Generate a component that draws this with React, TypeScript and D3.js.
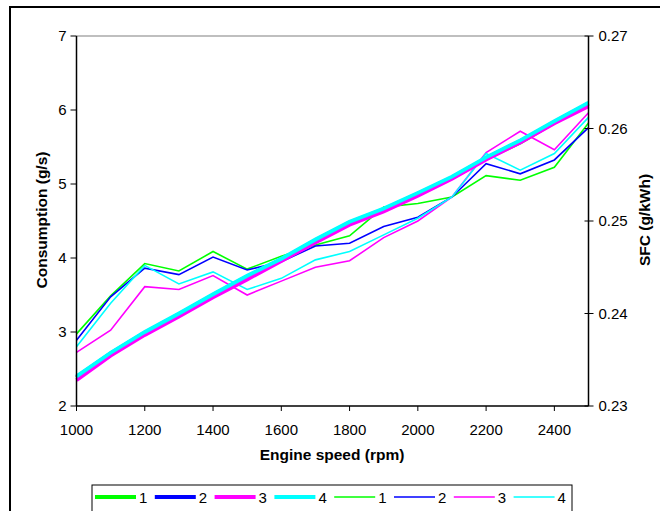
import React from "react";
import * as d3 from "d3";

const speeds = [1000, 1100, 1200, 1300, 1400, 1500, 1600, 1700, 1800, 1900, 2000, 2100, 2200, 2300, 2400, 2500];

// Consumption (g/s) – thick lines, left axis
const cons1 = [2.38, 2.70, 2.98, 3.23, 3.49, 3.74, 3.97, 4.23, 4.47, 4.65, 4.86, 5.08, 5.34, 5.56, 5.83, 6.08];
const cons2 = [2.39, 2.71, 2.99, 3.24, 3.50, 3.75, 3.98, 4.24, 4.48, 4.66, 4.87, 5.09, 5.35, 5.58, 5.84, 6.09];
const cons3 = [2.35, 2.68, 2.96, 3.21, 3.47, 3.71, 3.96, 4.21, 4.45, 4.63, 4.84, 5.07, 5.33, 5.56, 5.82, 6.05];
const cons4 = [2.40, 2.72, 3.00, 3.25, 3.51, 3.76, 3.99, 4.25, 4.49, 4.67, 4.88, 5.10, 5.36, 5.59, 5.85, 6.10];

// SFC (g/kWh) – thin lines, right axis
const sfc1 = [0.2378, 0.2419, 0.2454, 0.2446, 0.2467, 0.2448, 0.2462, 0.2474, 0.2484, 0.2515, 0.2519, 0.2526, 0.2549, 0.2544, 0.2558, 0.2606];
const sfc2 = [0.2371, 0.2418, 0.2449, 0.2442, 0.2461, 0.2447, 0.2456, 0.2473, 0.2476, 0.2494, 0.2504, 0.2526, 0.2562, 0.2551, 0.2566, 0.2601];
const sfc3 = [0.2358, 0.2382, 0.2429, 0.2426, 0.2441, 0.2420, 0.2435, 0.2450, 0.2457, 0.2482, 0.2500, 0.2526, 0.2574, 0.2597, 0.2577, 0.2617];
const sfc4 = [0.2364, 0.2411, 0.2452, 0.2432, 0.2445, 0.2426, 0.2438, 0.2458, 0.2467, 0.2485, 0.2503, 0.2526, 0.2573, 0.2555, 0.2573, 0.2612];

const xTicks = [1000, 1200, 1400, 1600, 1800, 2000, 2200, 2400];
const yLeftTicks = [2, 3, 4, 5, 6, 7];
const yRightTicks = [0.23, 0.24, 0.25, 0.26, 0.27];
const seriesLabels = ["1", "2", "3", "4"];
const colors = ["#00ff00", "#0000ff", "#ff00ff", "#00ffff"];

const FONT = "Liberation Sans, Arial, sans-serif";

export default function App() {
  const left = 76.5, right = 588.5, top = 36, bottom = 406;
  const x = d3.scaleLinear().domain([1000, 2500]).range([left, right]);
  const yL = d3.scaleLinear().domain([2, 7]).range([bottom, top]);
  const yR = d3.scaleLinear().domain([0.23, 0.27]).range([bottom, top]);

  const consSeries = [cons1, cons2, cons3, cons4];
  const sfcSeries = [sfc1, sfc2, sfc3, sfc4];

  const lineL = d3.line<number>().x((_, i) => x(speeds[i])).y((d) => yL(d));
  const lineR = d3.line<number>().x((_, i) => x(speeds[i])).y((d) => yR(d));

  const legendItems = [
    ...seriesLabels.map((l, i) => ({ label: l, color: colors[i], w: 4 })),
    ...seriesLabels.map((l, i) => ({ label: l, color: colors[i], w: 1.6 })),
  ];

  return (
    <svg width={660} height={511} style={{ position: "absolute", left: 0, top: 0, background: "#fff" }}>
      <rect x={0} y={0} width={660} height={511} fill="#fff" />
      {/* outer frame */}
      <rect x={10} y={7} width={700} height={600} fill="none" stroke="#000" strokeWidth={2} />
      {/* plot top gray line */}
      <line x1={left} x2={right} y1={top} y2={top} stroke="#808080" strokeWidth={1.2} />

      {/* data lines: thin SFC */}
      {sfcSeries.map((s, i) => (
        <path key={"s" + i} d={lineR(s) || ""} fill="none" stroke={colors[i]} strokeWidth={1.6} strokeLinejoin="miter" />
      ))}
      {/* thick consumption */}
      {consSeries.map((s, i) => (
        <path key={"c" + i} d={lineL(s) || ""} fill="none" stroke={colors[i]} strokeWidth={3.8} />
      ))}

      {/* left axis */}
      <line x1={left} x2={left} y1={top} y2={bottom} stroke="#000" strokeWidth={1.5} />
      {yLeftTicks.map((t) => (
        <g key={"yl" + t}>
          <line x1={left - 6} x2={left} y1={yL(t)} y2={yL(t)} stroke="#000" strokeWidth={1} />
          <text x={left - 10} y={yL(t)} dy="0.35em" textAnchor="end" fontFamily={FONT} fontSize={15}>{t}</text>
        </g>
      ))}
      {/* right axis */}
      <line x1={right} x2={right} y1={top} y2={bottom} stroke="#000" strokeWidth={1.5} />
      {yRightTicks.map((t) => (
        <g key={"yr" + t}>
          <line x1={right - 4} x2={right + 5} y1={yR(t)} y2={yR(t)} stroke="#000" strokeWidth={1} />
          <text x={right + 10} y={yR(t)} dy="0.35em" textAnchor="start" fontFamily={FONT} fontSize={15}>{t.toFixed(2)}</text>
        </g>
      ))}
      {/* bottom axis */}
      <line x1={left} x2={right} y1={bottom} y2={bottom} stroke="#000" strokeWidth={1.5} />
      {xTicks.map((t) => (
        <g key={"x" + t}>
          <line x1={x(t)} x2={x(t)} y1={bottom} y2={bottom + 5} stroke="#000" strokeWidth={1} />
          <text x={x(t)} y={bottom + 29} textAnchor="middle" fontFamily={FONT} fontSize={15}>{t}</text>
        </g>
      ))}

      {/* axis titles */}
      <text x={332} y={460} textAnchor="middle" fontFamily={FONT} fontSize={15.5} fontWeight="bold">Engine speed (rpm)</text>
      <text transform="translate(47,220) rotate(-90)" textAnchor="middle" fontFamily={FONT} fontSize={15.5} fontWeight="bold">Consumption (g/s)</text>
      <text transform="translate(650,220) rotate(-90)" textAnchor="middle" fontFamily={FONT} fontSize={15.5} fontWeight="bold">SFC (g/kWh)</text>

      {/* legend */}
      <rect x={92} y={485} width={480} height={30} fill="#fff" stroke="#000" strokeWidth={1} />
      {legendItems.map((it, i) => {
        const lx = 95 + i * 59.8;
        return (
          <g key={"lg" + i}>
            <line x1={lx} x2={lx + 41} y1={497} y2={497} stroke={it.color} strokeWidth={it.w} />
            <text x={lx + 44} y={502.5} fontFamily={FONT} fontSize={15}>{it.label}</text>
          </g>
        );
      })}
    </svg>
  );
}
